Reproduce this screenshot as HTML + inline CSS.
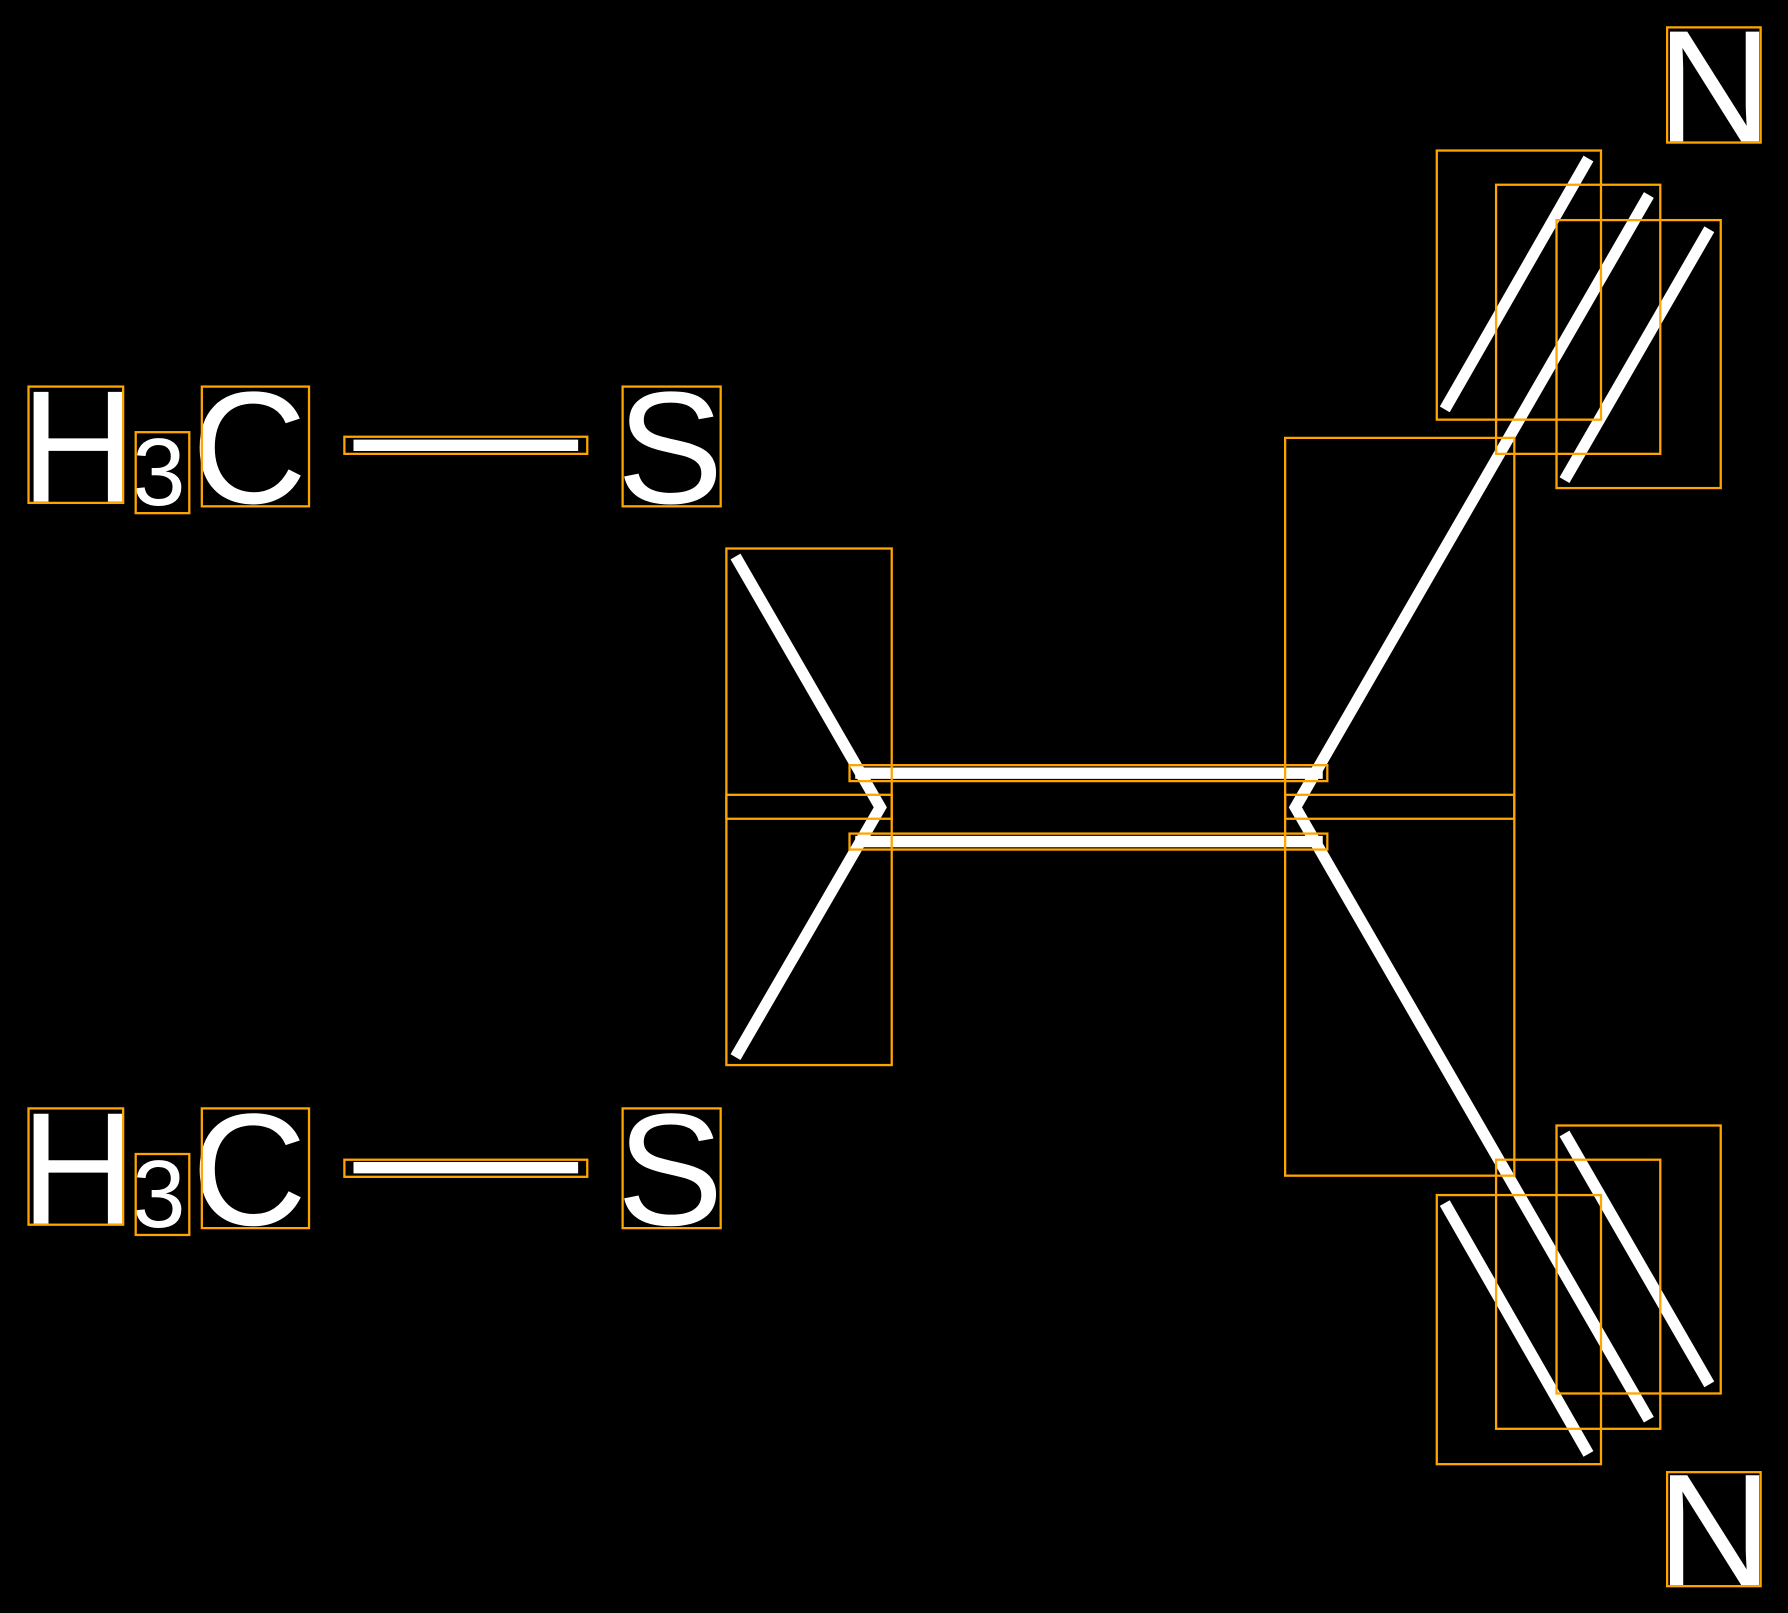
<!DOCTYPE html>
<html><head><style>html,body{margin:0;padding:0;background:#000;}svg{display:block}</style></head>
<body>
<svg width="1788" height="1613" viewBox="0 0 1568 1414.5" xmlns="http://www.w3.org/2000/svg">
<rect width="1568" height="1414.5" fill="#000"/>
<g fill="none" stroke="#fff" stroke-width="10">
<line x1="310" y1="390.5" x2="507" y2="390.5"/>
<line x1="310" y1="1024" x2="507" y2="1024"/>
<polyline points="645,488 772,708 645,927"/>
<line x1="750" y1="678" x2="1160" y2="678"/>
<line x1="750" y1="738" x2="1160" y2="738"/>
<polyline points="1446,171 1136,708 1446,1245"/>
<line x1="1267" y1="359" x2="1393" y2="139"/>
<line x1="1372" y1="421" x2="1499" y2="201"/>
<line x1="1267" y1="1055" x2="1393" y2="1275"/>
<line x1="1372" y1="994" x2="1499" y2="1214"/>
</g>
<g font-family="Liberation Sans, sans-serif" fill="#fff">
<text x="18" y="440" font-size="140">H</text>
<text x="116" y="443" font-size="84">3</text>
<text x="168" y="441" font-size="140">C</text>
<text x="541" y="441" font-size="140">S</text>
<text x="18" y="1073" font-size="140">H</text>
<text x="116" y="1076" font-size="84">3</text>
<text x="168" y="1074" font-size="140">C</text>
<text x="541" y="1074" font-size="140">S</text>
<text x="1453" y="124" font-size="140">N</text>
<text x="1453" y="1390" font-size="140">N</text>
</g>
<g fill="none" stroke="#FFA500" stroke-width="2">
<rect x="25" y="339" width="83" height="102"/>
<rect x="119" y="379" width="47" height="71"/>
<rect x="177" y="339" width="94" height="105"/>
<rect x="302" y="383" width="213" height="15"/>
<rect x="546" y="339" width="86" height="105"/>
<rect x="25" y="972" width="83" height="102"/>
<rect x="119" y="1012" width="47" height="71"/>
<rect x="177" y="972" width="94" height="105"/>
<rect x="302" y="1017" width="213" height="15"/>
<rect x="546" y="972" width="86" height="105"/>
<rect x="637" y="481" width="145" height="237"/>
<rect x="637" y="697" width="145" height="237"/>
<rect x="745" y="671" width="419" height="14"/>
<rect x="745" y="731" width="419" height="14"/>
<rect x="1127" y="384" width="201" height="334"/>
<rect x="1127" y="697" width="201" height="334"/>
<rect x="1260" y="132" width="144" height="236"/>
<rect x="1312" y="162" width="144" height="236"/>
<rect x="1365" y="193" width="144" height="235"/>
<rect x="1260" y="1048" width="144" height="236"/>
<rect x="1312" y="1017" width="144" height="236"/>
<rect x="1365" y="987" width="144" height="235"/>
<rect x="1462" y="24" width="82" height="101"/>
<rect x="1462" y="1291" width="82" height="100"/>
</g>
</svg>
</body></html>
